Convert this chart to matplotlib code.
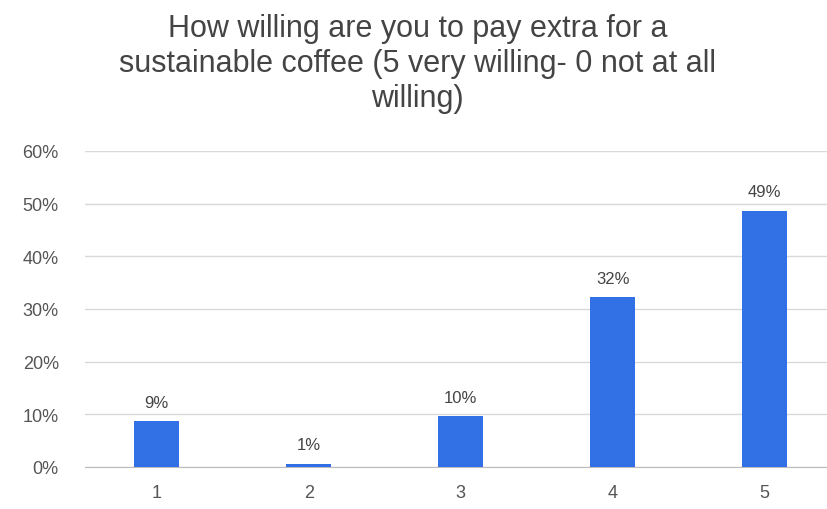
import numpy as np
import matplotlib.pyplot as plt

plt.rcParams['font.family'] = ['Liberation Sans', 'DejaVu Sans']

categories = ['1', '2', '3', '4', '5']
values = [8.7, 0.6, 9.6, 32.2, 48.6]   # percent
yticks = [0, 10, 20, 30, 40, 50, 60]

fig = plt.figure(figsize=(8.27, 5.10), dpi=100)
ax = fig.add_axes([0.103, 0.0824, 0.897, 0.6196])

x = np.arange(1, len(categories) + 1)
ax.bar(x, values, width=0.3, color='#3270E6', zorder=3)

for xi, v in zip(x, values):
    ax.text(xi, v + 2.2, f'{v:.0f}%', ha='center', va='bottom',
            fontsize=12, color='#444444')

ax.set_xlim(0.53, 5.41)
ax.set_ylim(0, 60)
ax.set_yticks(yticks)
ax.set_yticklabels([f'{t}%' for t in yticks])
ax.set_xticks(x)
ax.set_xticklabels(categories)
ax.tick_params(axis='both', length=0, labelsize=13, colors='#555555')
ax.tick_params(axis='y', pad=19)
ax.tick_params(axis='x', pad=12)

ax.grid(axis='y', color='#d9d9d9', linewidth=1, zorder=0)
for s in ['top', 'right', 'left']:
    ax.spines[s].set_visible(False)
ax.spines['bottom'].set_color('#bbbbbb')

fig.text(0.505, 0.972,
         'How willing are you to pay extra for a\n'
         'sustainable coffee (5 very willing- 0 not at all\n'
         'willing)',
         ha='center', va='top', fontsize=22, color='#444444', linespacing=1.22)

fig.savefig('out.png', dpi=100)
